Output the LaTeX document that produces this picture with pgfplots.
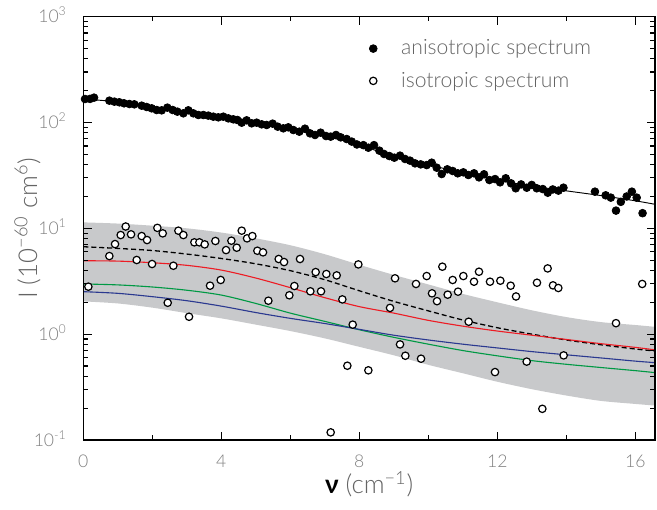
\documentclass[border=0pt]{standalone}
\usepackage{fontspec}
\setmainfont{Lato Light}[BoldFont={Lato Bold}]
\usepackage{pgfplots}
\pgfplotsset{compat=1.18}
\usepgfplotslibrary{fillbetween}
\usetikzlibrary{calc}
\definecolor{band}{RGB}{200,201,203}
\definecolor{tickgray}{RGB}{128,128,128}
\definecolor{labgray}{RGB}{100,100,100}
\definecolor{cred}{RGB}{237,28,36}
\definecolor{cgreen}{RGB}{0,153,68}
\definecolor{cblue}{RGB}{43,57,144}
\pgfplotsset{wideimg/.style={legend image code/.code={%
    \path[draw=none, fill=none] (0cm,0cm) (0.46cm,0cm);
    \draw[##1] plot coordinates {(0cm,0cm)};}}}
\begin{document}
\begin{tikzpicture}
\begin{axis}[
  scale only axis, width=308.7pt, height=228.6pt,
  xmin=0, xmax=16.57,
  ymode=log, log basis y=10, ymin=0.1, ymax=1000,
  xtick={0,4,8,12,16}, minor xtick={2,6,10,14},
  tick align=inside, major tick length=4.5pt, minor tick length=2.5pt,
  axis line style={line width=0.7pt},
  every tick/.style={black, line width=0.6pt},
  axis on top,
  /pgf/number format/assume math mode=true,
  ticklabel style={font=\fontsize{9.5}{11}\selectfont, text=tickgray},
  xticklabel style={anchor=base, yshift=-14.6pt},
  yticklabel={10\textsuperscript{\pgfmathparse{int(round(\tick))}\pgfmathresult}},
  yticklabel style={anchor=base east, xshift=-5.4pt, yshift=-3.4pt},
  xlabel={\textcolor{black}{\textbf{ν}} (cm\textsuperscript{−1})},
  xlabel style={font=\fontsize{14}{16}\selectfont, text=labgray,
    at={(axis description cs:0.5,0)}, anchor=base, yshift=-29pt},
  ylabel={I (10\textsuperscript{−60} cm\textsuperscript{6})},
  ylabel style={font=\fontsize{14}{16}\selectfont, text=labgray,
    at={(axis description cs:-0.081,0.5)}, anchor=base},
  legend style={at={(axis description cs:0.49,0.964)}, anchor=north west,
    draw=none, fill=none, font=\fontsize{11.4}{13.5}\selectfont, text=labgray,
    row sep=3.8pt, cells={anchor=west}},
]
% grey band
\addplot[name path=up, draw=none, smooth, forget plot] coordinates {
 (0,11.38) (1,11.09) (2,10.59) (3,10.0) (4,9.12) (5,8.04) (6,6.92) (7,5.69)
 (8,4.52) (9,3.63) (10,2.95) (11,2.40) (12,2.00) (13,1.68) (14,1.45)
 (15,1.30) (16,1.22) (16.6,1.17)};
\addplot[name path=lo, draw=none, smooth, forget plot] coordinates {
 (0,2.04) (1,1.95) (2,1.78) (3,1.58) (4,1.41) (5,1.23) (6,1.07) (7,0.912)
 (8,0.759) (9,0.631) (10,0.513) (11,0.427) (12,0.355) (13,0.302) (14,0.263)
 (15,0.234) (16,0.219) (16.6,0.211)};
\addplot[band, forget plot] fill between[of=up and lo];
% model curves
\addplot[black, line width=0.7pt, dash pattern=on 2.7pt off 1.6pt, smooth, forget plot] coordinates {
 (0,6.70) (1,6.46) (2,6.17) (3,5.71) (4,5.19) (5,4.62) (6,3.98) (7,3.27)
 (8,2.57) (9,2.04) (10,1.66) (11,1.36) (12,1.15) (13,1.0) (14,0.881)
 (15,0.794) (16,0.724) (16.6,0.692)};
\addplot[cred, line width=0.6pt, smooth, forget plot] coordinates {
 (0,4.94) (1,4.90) (2,4.73) (3,4.47) (4,4.03) (5,3.39) (6,2.75) (7,2.21)
 (8,1.82) (9,1.58) (10,1.35) (11,1.19) (12,1.07) (13,0.977) (14,0.891)
 (15,0.813) (16,0.750) (16.6,0.708)};
\addplot[cgreen, line width=0.6pt, smooth, forget plot] coordinates {
 (0,2.98) (1,2.92) (2,2.79) (3,2.60) (4,2.34) (5,1.95) (6,1.58) (7,1.32)
 (8,1.10) (9,0.933) (10,0.804) (11,0.700) (12,0.624) (13,0.562) (14,0.519)
 (15,0.484) (16,0.452) (16.6,0.432)};
\addplot[cblue, line width=0.6pt, smooth, forget plot] coordinates {
 (0,2.52) (1,2.43) (2,2.26) (3,2.07) (4,1.84) (5,1.60) (6,1.41) (7,1.26)
 (8,1.11) (9,0.977) (10,0.881) (11,0.804) (12,0.741) (13,0.684) (14,0.638)
 (15,0.596) (16,0.556) (16.6,0.537)};
% fit of the anisotropic spectrum
\addplot[black, line width=0.5pt, smooth, forget plot] coordinates {
 (0,166.7) (1,156.7) (2,141.3) (3,125.9) (4,112.2) (5,98.9) (6,86.1) (7,74.1)
 (8,61.7) (9,47.3) (10,39.8) (11,33.5) (12,28.5) (13,25.1) (14,22.6)
 (15,20.4) (16,18.2) (16.6,16.8)};
% anisotropic spectrum
\addplot[only marks, mark=*, mark size=2.1pt, black, wideimg] coordinates {
 (0.049,166.7) (0.194,167) (0.31,171.7) (0.755,160.8) (0.90,157.3) (1.044,155.2)
 (1.18,151.8) (1.334,149.5) (1.479,148.5) (1.692,144.2) (1.836,140.1) (1.981,136.1)
 (2.126,131.2) (2.271,130.3) (2.435,138.1) (2.59,131.2) (2.725,126.6) (2.899,122.1)
 (3.044,130.3) (3.189,122.1) (3.334,117.7) (3.479,117.7) (3.623,116.1) (3.768,113.5)
 (3.913,111.9) (4.058,113.5) (4.203,109.4) (4.348,107.1) (4.464,105.6) (4.589,99.6)
 (4.734,104.8) (4.879,98.2) (5.024,99.6) (5.169,96.1) (5.314,94.7) (5.488,97.5)
 (5.633,91.3) (5.797,88.1) (5.942,90.0) (6.087,84.9) (6.261,81.9) (6.425,87.4)
 (6.57,79.0) (6.715,76.2) (6.879,80.1) (7.034,74.5) (7.17,73.5) (7.324,76.2)
 (7.46,72.4) (7.633,69.8) (7.78,66.0) (7.93,62.0) (8.117,61.1) (8.262,57.8)
 (8.426,61.1) (8.581,54.2) (8.716,50.4) (8.87,48.2) (9.015,46.5) (9.18,48.6)
 (9.325,45.2) (9.47,43.6) (9.615,41.1) (9.78,40.2) (9.953,39.6) (10.098,41.7)
 (10.243,37.4) (10.388,32.6) (10.552,36.1) (10.707,34.8) (10.852,33.1) (11.016,33.8)
 (11.161,31.9) (11.326,33.1) (11.47,30.3) (11.615,32.4) (11.77,28.6) (11.935,29.2)
 (12.08,27.2) (12.244,29.7) (12.399,26.6) (12.534,23.9) (12.689,26.0) (12.853,24.2)
 (12.998,25.7) (13.143,23.9) (13.317,23.5) (13.462,21.7) (13.607,23.3) (13.772,22.7)
 (13.917,24.2) (14.83,22.2) (15.14,20.5) (15.29,19.5) (15.44,14.7) (15.58,17.8)
 (15.75,20.0) (15.9,22.2) (16.04,19.5) (16.21,13.9)};
\addlegendentry{anisotropic spectrum}
% isotropic spectrum
\addplot[only marks, mark=*, mark size=2.0pt, wideimg,
  mark options={fill=white, draw=black, line width=0.65pt}] coordinates {
 (0.146,2.81) (0.754,5.47) (0.919,7.1) (1.083,8.64) (1.228,10.4) (1.383,8.77)
 (1.547,5.02) (1.692,8.45) (1.847,7.75) (1.992,4.6) (2.146,10.1) (2.301,8.96)
 (2.446,1.98) (2.61,4.43) (2.755,9.5) (2.90,8.64) (3.064,1.46) (3.219,7.37)
 (3.364,7.37) (3.518,7.05) (3.673,2.87) (3.828,7.59) (3.982,3.25) (4.137,6.23)
 (4.292,7.64) (4.446,6.56) (4.591,9.5) (4.746,8.04) (4.90,8.45) (5.045,6.14)
 (5.209,5.93) (5.364,2.07) (5.663,5.13) (5.818,4.8) (5.972,2.33) (6.117,2.85)
 (6.281,5.13) (6.58,2.54) (6.735,3.86) (6.89,2.54) (7.044,3.70) (7.17,0.118)
 (7.344,3.59) (7.508,2.13) (7.653,0.503) (7.808,1.23) (7.972,4.56) (8.262,0.455)
 (8.89,1.77) (9.035,3.37) (9.18,0.80) (9.334,0.625) (9.643,2.98) (9.789,0.586)
 (9.953,3.54) (10.107,2.43) (10.252,2.05) (10.407,4.34) (10.561,2.36) (10.706,3.25)
 (10.861,2.52) (11.015,3.54) (11.17,1.31) (11.324,3.13) (11.469,3.89) (11.788,3.13)
 (11.933,0.438) (12.088,3.2) (12.387,2.87) (12.542,2.27) (12.851,0.55) (13.15,3.06)
 (13.305,0.197) (13.459,4.18) (13.614,2.89) (13.768,2.73) (13.923,0.63) (15.44,1.27)
 (16.2,2.98)};
\addlegendentry{isotropic spectrum}
\end{axis}
\pgfresetboundingbox
\path[use as bounding box] ($(current axis.south west)+(-45pt,-37.3pt)$)
  rectangle ($(current axis.north east)+(1.1pt,9pt)$);
\end{tikzpicture}
\end{document}
